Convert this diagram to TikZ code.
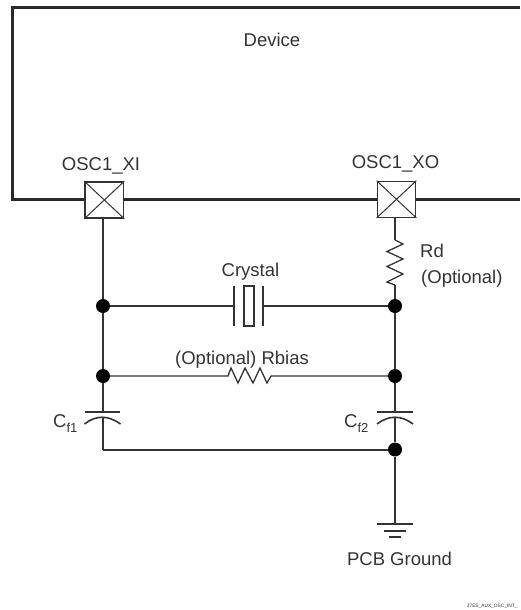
\documentclass[tikz,border=0pt]{standalone}
\usepackage{fontspec}
\setmainfont{Liberation Sans}
\definecolor{ink}{HTML}{333333}
\tikzset{
  px/.style={x=1pt,y=-1pt},
  wire/.style={draw=ink,line width=1.6pt},
  thin wire/.style={draw=ink,line width=1.3pt},
  thick wire/.style={draw=ink!80!black,line width=3pt},
  pad/.style={draw=ink,line width=1.3pt,minimum width=38.5pt,minimum height=36pt,inner sep=0pt,fill=white},
  dotj/.style={circle,fill=black,draw=none,minimum size=14pt,inner sep=0pt},
  lbl/.style={text=ink,font=\fontsize{18.5}{21}\selectfont,inner sep=0pt},
}
\newcommand{\capsub}[1]{C\raisebox{-5.5pt}{\fontsize{13}{14}\selectfont #1}}
\begin{document}
\begin{tikzpicture}[px]
\useasboundingbox (0,0) rectangle (520,610);
% device outline
\coordinate (tl) at (12,8);
\coordinate (tr) at (520,8);
\coordinate (bl) at (12,199);
\coordinate (br) at (520,199);
\draw[thick wire,line join=miter] (tr) -- (tl) -- (bl) -- (br);
\node[lbl,anchor=base] (dev) at (272,46.5) {Device};
% pads
\node[pad] (xi) at (104.3,200) {};
\node[pad] (xo) at (396.5,199.3) {};
\draw[draw=ink,line width=1pt] (xi.north west) -- (xi.south east) (xi.north east) -- (xi.south west);
\draw[draw=ink,line width=1pt] (xo.north west) -- (xo.south east) (xo.north east) -- (xo.south west);
\node[lbl,anchor=base] (xil) at (101,170) {OSC1\_XI};
\node[lbl,anchor=base] (xol) at (395.5,168) {OSC1\_XO};
% junctions
\node[dotj] (a1) at (103,306) {};
\node[dotj] (b1) at (395,306) {};
\node[dotj] (a2) at (103,376) {};
\node[dotj] (b2) at (395,376) {};
\node[dotj] (b3) at (395,449.5) {};
\coordinate (a3) at (103,449.5);
\coordinate (xit) at (103,218);
\coordinate (xot) at (395,217);
% left rail
\draw[wire] (xit) -- (a1) -- (a2) -- (103,412);
\draw[wire] (103,417) -- (a3);
\draw[draw=ink,line width=2pt] (a3) -- (b3);
% right rail
\draw[wire] (xot) -- (395,240);
\draw[thin wire] (395,240)
  -- (403,244) -- (387,251.5) -- (403,259) -- (387,266.5) -- (403,274) -- (387,282) -- (395,285);
\draw[wire] (395,285) -- (b1);
\draw[wire] (b1) -- (b2) -- (395,412);
\draw[wire] (395,417) -- (b3) -- (395,524);
% crystal
\draw[wire] (a1) -- (234,306);
\draw[wire] (234,286) -- (234,326);
\draw[wire] (263,286) -- (263,326);
\draw[wire] (263,306) -- (b1);
\draw[draw=ink,line width=1.3pt] (244,286) rectangle (254,326);
\node[lbl,anchor=base] (cry) at (250.5,276) {Crystal};
% Rbias
\draw[thin wire] (a2) -- (228,376) -- (231,368) -- (238,383) -- (245,368) -- (253,383) -- (260,368) -- (267,383) -- (271,376) -- (b2);
\node[lbl,anchor=base] (rb) at (242,364) {(Optional) Rbias};
% Rd
\node[lbl,anchor=base west] (rd) at (420,257) {Rd};
\node[lbl,anchor=base west] (rdo) at (421,283) {(Optional)};
% caps
\draw[wire] (85,412) -- (120,412);
\draw[wire] (84.5,424) .. controls (96,415) and (108,415) .. (120.5,424);
\draw[wire] (377,412) -- (413,412);
\draw[wire] (377,424) .. controls (389,415) and (401,415) .. (413,424);
\node[lbl,anchor=base west] (c1) at (53,427) {\capsub{f1}};
\node[lbl,anchor=base west] (c2) at (344,427) {\capsub{f2}};
% ground
\draw[wire] (377,524) -- (413,524);
\draw[wire] (384,531) -- (406,531);
\draw[wire] (389,537) -- (401,537);
\node[lbl,anchor=base] (pcb) at (399.5,565) {PCB Ground};
% footer
\node[anchor=base west,inner sep=0pt,text=ink,font=\fontsize{4.8}{5}\selectfont] (foot) at (467,607) {J7ES\_AUX\_OSC\_INT\_};
\end{tikzpicture}
\end{document}
